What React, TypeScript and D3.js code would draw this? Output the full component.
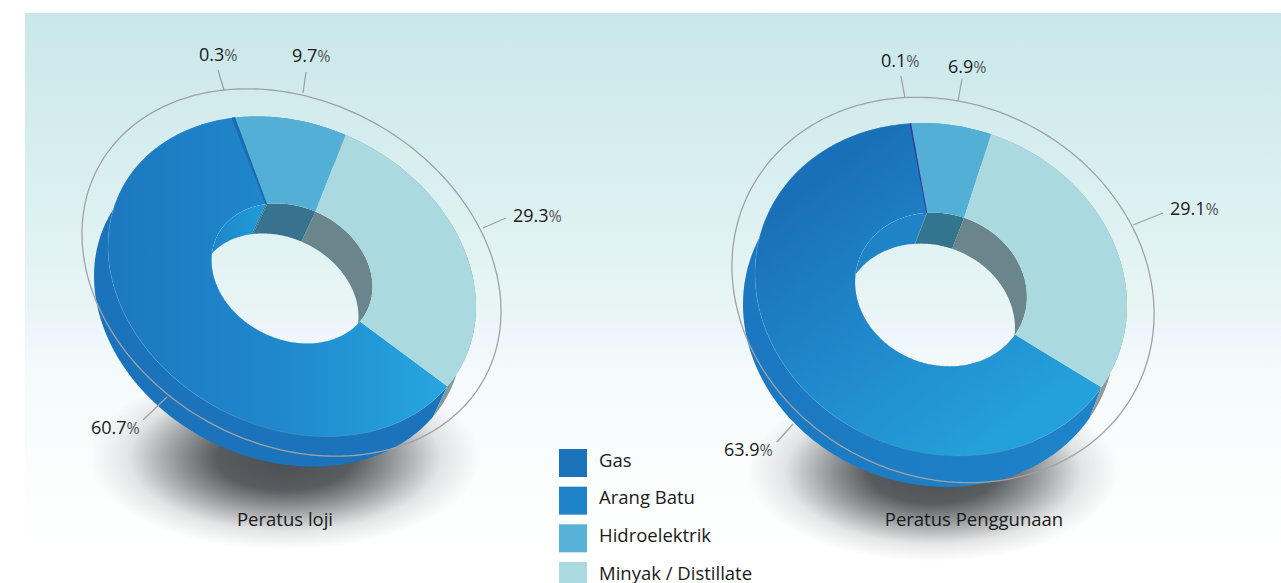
import React from "react";
import * as d3 from "d3";

const W = 1281;
const H = 583;

// values, clockwise from the big slice
const sliceNames = ["Utama", "Kecil", "Hidroelektrik", "Minyak / Distillate"];
const plantValues = [60.7, 0.3, 9.7, 29.3];
const usageValues = [63.9, 0.1, 6.9, 29.1];

const legendLabels = ["Gas", "Arang Batu", "Hidroelektrik", "Minyak / Distillate"];
const legendColors = ["#1a72ba", "#1e83c8", "#58b1d7", "#aad9df"];

const FONT = "'Open Sans', 'Noto Sans', sans-serif";

const rad = (d: number) => (d * Math.PI) / 180;

const charts = [
  {
    id: "loji",
    title: "Peratus loji",
    titleX: 285,
    values: plantValues,
    start: 100.7,
    cx: 292,
    cy: 276.5,
    a: 191.5,
    b: 151,
    tilt: 26.8,
    inner: 0.4375,
    hubY: -3,
    dx: -14,
    dy: 30,
    ring: { cx: 291.5, cy: 272.5, a: 220, b: 171, tilt: 29 },
    shadow: { cx: 285, cy: 458, rx: 195, ry: 92 },
    faceFills: ["url(#loji-big)", "#1a6cb0", "#53afd6", "#aad9df"],
    sideFills: ["#1a73bb", "#1a6cb0", "#4a9cc0", "#80999d"],
    wallFills: ["url(#loji-wall)", "#2f718c", "#37738f", "#6a868c"],
    bigStops: [
      [0, "#1c78bf"],
      [0.5, "#1f88cd"],
      [1, "#26a6df"],
    ],
    bigAxis: [108, 0, 447, 0],
    wallAxis: [212, 0, 265, 0],
    wallStops: [
      [0, "#1e86c9"],
      [1, "#1f9cd9"],
    ],
    labels: [
      { text: "60.7", x: 91, y: 434, line: [143, 420, 167, 397] },
      { text: "0.3", x: 199, y: 61, line: [218, 70, 224, 90] },
      { text: "9.7", x: 292, y: 62, line: [306, 72, 303, 93] },
      { text: "29.3", x: 513, y: 222, line: [506, 218, 483, 228] },
    ],
  },
  {
    id: "guna",
    title: "Peratus Penggunaan",
    titleX: 974,
    values: usageValues,
    start: 102.5,
    cx: 941,
    cy: 289.5,
    a: 189,
    b: 163,
    tilt: 20.5,
    inner: 0.462,
    hubY: 0,
    dx: -12,
    dy: 31,
    ring: { cx: 943, cy: 290, a: 217, b: 186, tilt: 26.8 },
    shadow: { cx: 933, cy: 472, rx: 185, ry: 90 },
    faceFills: ["url(#guna-big)", "#2e3f96", "#53afd6", "#aad9df"],
    sideFills: ["url(#guna-side)", "#1e7fc5", "#4a9cc0", "#8f9a9e"],
    wallFills: ["#1f83c8", "#33748f", "#33748f", "#6a868c"],
    bigStops: [
      [0, "#1a70b8"],
      [0.5, "#2088cc"],
      [1, "#24a0da"],
    ],
    bigAxis: [830, 170, 1020, 420],
    wallAxis: [0, 0, 1, 0],
    wallStops: [
      [0, "#1f83c8"],
      [1, "#1f83c8"],
    ],
    labels: [
      { text: "63.9", x: 724, y: 456, line: [777, 442, 793, 424] },
      { text: "0.1", x: 881, y: 67, line: [901, 76, 905, 98] },
      { text: "6.9", x: 948, y: 73, line: [962, 79, 958, 101] },
      { text: "29.1", x: 1170, y: 215, line: [1163, 213, 1133, 225] },
    ],
  },
];

type Ell = { cx: number; cy: number; a: number; b: number; tilt: number };

// point on a tilted ellipse, angle as in d3.pie (0 at twelve o'clock, clockwise)
function project(e: Ell, angle: number, r = 1, ox = 0, oy = 0): [number, number] {
  const p = angle - Math.PI / 2;
  const t = rad(e.tilt);
  const u = r * e.a * Math.cos(p);
  const v = r * e.b * Math.sin(p);
  return [e.cx + u * Math.cos(t) - v * Math.sin(t) + ox, e.cy + u * Math.sin(t) + v * Math.cos(t) + oy];
}

function sweep(a0: number, a1: number) {
  const n = Math.max(2, Math.ceil(((a1 - a0) * 180) / Math.PI));
  return d3.range(n + 1).map((i) => a0 + ((a1 - a0) * i) / n);
}

const line = d3.line();

function facePath(e: Ell, a0: number, a1: number, inner: number, hubY: number) {
  const angs = sweep(a0, a1);
  const pts = [...angs.map((x) => project(e, x)), ...angs.reverse().map((x) => project(e, x, inner, 0, hubY))];
  return line(pts) + "Z";
}

function wallPath(e: Ell, a0: number, a1: number, r: number, dx: number, dy: number, oy = 0) {
  const angs = sweep(a0, a1);
  const pts = [...angs.map((x) => project(e, x, r, 0, oy)), ...angs.reverse().map((x) => project(e, x, r, dx, dy + oy))];
  return line(pts) + "Z";
}

function ellipsePath(e: Ell, r = 1, oy = 0) {
  return line(sweep(0, Math.PI * 2).map((x) => project(e, x, r, 0, oy))) + "Z";
}

function Donut({ c }: { c: (typeof charts)[number] }) {
  const pie = d3
    .pie<number>()
    .sort(null)
    .value((d) => d)
    .startAngle(rad(c.start))
    .endAngle(rad(c.start + 360));
  const arcs = pie(c.values);
  const e: Ell = { cx: c.cx, cy: c.cy, a: c.a, b: c.b, tilt: c.tilt };
  const big = arcs[0];

  return (
    <g>
      <defs>
        <linearGradient id={`${c.id}-big`} gradientUnits="userSpaceOnUse" x1={c.bigAxis[0]} y1={c.bigAxis[1]} x2={c.bigAxis[2]} y2={c.bigAxis[3]}>
          {c.bigStops.map(([o, col]) => (
            <stop key={o} offset={o} stopColor={col as string} />
          ))}
        </linearGradient>
        <linearGradient id={`${c.id}-wall`} gradientUnits="userSpaceOnUse" x1={c.wallAxis[0]} y1={c.wallAxis[1]} x2={c.wallAxis[2]} y2={c.wallAxis[3]}>
          {c.wallStops.map(([o, col]) => (
            <stop key={o} offset={o} stopColor={col as string} />
          ))}
        </linearGradient>
        <linearGradient id={`${c.id}-side`} gradientUnits="userSpaceOnUse" x1={c.cx - 190} y1={0} x2={c.cx + 170} y2={0}>
          <stop offset={0} stopColor="#1b78c0" />
          <stop offset={1} stopColor="#1e84ca" />
        </linearGradient>
        <radialGradient id={`${c.id}-shadow`}>
          <stop offset={0} stopColor="#2b2f33" stopOpacity={0.85} />
          <stop offset={0.35} stopColor="#2b2f33" stopOpacity={0.78} />
          <stop offset={0.55} stopColor="#2b2f33" stopOpacity={0.5} />
          <stop offset={0.8} stopColor="#2b2f33" stopOpacity={0.12} />
          <stop offset={1} stopColor="#2b2f33" stopOpacity={0} />
        </radialGradient>
        <clipPath id={`${c.id}-hole`}>
          <path d={ellipsePath(e, c.inner, c.hubY)} />
        </clipPath>
      </defs>

      <ellipse cx={c.shadow.cx} cy={c.shadow.cy} rx={c.shadow.rx} ry={c.shadow.ry} fill={`url(#${c.id}-shadow)`} />

      {arcs.map((s, i) => (
        <path key={i} d={wallPath(e, s.startAngle, s.endAngle, 1, c.dx, c.dy)} fill={c.sideFills[i]} />
      ))}
      {arcs.map((s, i) => (
        <path
          key={i}
          d={facePath(e, s.startAngle, s.endAngle, c.inner, c.hubY)}
          fill={c.faceFills[i]}
          stroke={i === 1 ? c.faceFills[1] : "none"}
          strokeWidth={1}
        />
      ))}
      {/* faint rim where the face meets the side */}
      <path
        d={line(sweep(big.startAngle, big.endAngle).map((x) => project(e, x))) as string}
        fill="none"
        stroke="#6fb0de"
        strokeWidth={0.6}
        opacity={0.45}
      />
      <g clipPath={`url(#${c.id}-hole)`}>
        {arcs.map((s, i) => (
          <path key={i} d={wallPath(e, s.startAngle, s.endAngle, c.inner, c.dx, c.dy, c.hubY)} fill={c.wallFills[i]} />
        ))}
      </g>

      <path d={ellipsePath(c.ring)} fill="none" stroke="#9fa2a5" strokeWidth={1.3} />

      {c.labels.map((l) => (
        <g key={l.text}>
          <line x1={l.line[0]} y1={l.line[1]} x2={l.line[2]} y2={l.line[3]} stroke="#9fa2a5" strokeWidth={1.3} />
          <text x={l.x} y={l.y} fontFamily={FONT} fontSize={18} fill="#1a1a1a">
            {l.text}
            <tspan fontSize={16} fill="#555">%</tspan>
          </text>
        </g>
      ))}

      <text x={c.titleX} y={526} textAnchor="middle" fontFamily={FONT} fontSize={18.5} fill="#1a1a1a">
        {c.title}
      </text>
    </g>
  );
}

export default function App() {
  const legendY = d3.scaleLinear().domain([0, 3]).range([449, 562]);

  return (
    <svg width={W} height={H} style={{ position: "absolute", left: 0, top: 0, display: "block" }}>
      <defs>
        <linearGradient id="bg" x1="0" y1="0" x2="0" y2="1">
          <stop offset={0} stopColor="#c9e7ea" />
          <stop offset={0.4} stopColor="#e0f2f2" />
          <stop offset={0.52} stopColor="#e9f5f5" />
          <stop offset={0.56} stopColor="#eef6fc" />
          <stop offset={0.62} stopColor="#f4fafb" />
          <stop offset={0.8} stopColor="#fbfdfd" />
          <stop offset={0.95} stopColor="#ffffff" />
        </linearGradient>
      </defs>
      <rect width={W} height={H} fill="#fff" />
      <rect x={25} y={13} width={W - 25} height={H - 13} fill="url(#bg)" />

      {charts.map((c) => (
        <Donut key={c.id} c={c} />
      ))}

      {legendLabels.map((name, i) => (
        <g key={name}>
          <rect x={559} y={legendY(i)} width={28} height={28} fill={legendColors[i]} />
          <text x={599} y={legendY(i) + 17.5} fontFamily={FONT} fontSize={18.5} fill="#1a1a1a">
            {name}
          </text>
        </g>
      ))}
    </svg>
  );
}
